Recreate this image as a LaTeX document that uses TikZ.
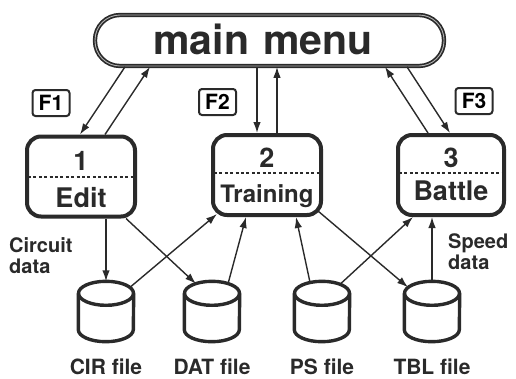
\documentclass[tikz,border=0pt]{standalone}
\usepackage{fontspec}
\setmainfont{TeX Gyre Heros}
\usetikzlibrary{arrows.meta,calc}
\definecolor{ink}{HTML}{2A2A2A}
\begin{document}
\begin{tikzpicture}[x=1pt,y=-1pt,
  menubox/.style={draw=ink, line width=1.7pt, double=gray!60, double distance=0.9pt,
    rounded corners=25pt, minimum width=349pt, minimum height=51pt, inner sep=0pt},
  modebox/.style={draw=ink, line width=4pt, rounded corners=14pt,
    minimum width=108pt, minimum height=80pt, inner sep=0pt},
  keybox/.style={draw=ink, line width=2pt, rounded corners=3pt, minimum width=37pt,
    minimum height=26pt, inner sep=0pt, font=\bfseries\fontsize{21}{21}\selectfont},
  boxtext/.style={text=ink, inner sep=0pt, anchor=base, font=\bfseries\fontsize{27}{27}\selectfont},
  sidelab/.style={text=ink, inner sep=0pt, align=left, anchor=north west,
    font=\bfseries\fontsize{20}{20.5}\selectfont},
  filelab/.style={text=ink, inner sep=0pt, anchor=base, font=\bfseries\fontsize{21}{21}\selectfont},
  divider/.style={draw=ink, line width=1.3pt, dash pattern=on 3pt off 2.4pt},
  arr/.style={draw=ink, line width=1.4pt, -{Latex[length=11pt,width=7.5pt]}},
  cylline/.style={draw=ink, line width=3.4pt},
  holder/.style={minimum width=55pt, minimum height=60pt, inner sep=0pt}]

\useasboundingbox (0,0) rectangle (516,378);

% top menu
\node[menubox] (main) at (269.5,40.5) {};
\node[text=ink, inner sep=0pt, font=\bfseries\fontsize{41}{41}\selectfont]
  (mainlab) at (263,39) {main\hspace{14pt}menu};

% function keys
\node[keybox] (f1) at (51,103) {F1};
\node[keybox] (f2) at (217.5,102) {F2};
\node[keybox] (f3) at (474,101) {F3};

% the three modes
\node[modebox] (b1) at (81,176.5) {};
\node[modebox] (b2) at (267,175) {};
\node[modebox, minimum width=106pt] (b3) at (451,175) {};

\draw[divider] ($(b1.west)+(3,0.5)$) -- ($(b1.east)+(-3,0.5)$);
\draw[divider] ($(b2.west)+(3,-2)$) -- ($(b2.east)+(-3,-2)$);
\draw[divider] ($(b3.west)+(3,-2)$) -- ($(b3.east)+(-3,-2)$);

\node[boxtext] (n1) at ($(b1.center)+(0,-6.5)$) {1};
\node[boxtext] (t1) at ($(b1.center)+(0,30.5)$) {Edit};
\node[boxtext] (n2) at ($(b2.center)+(0,-8)$) {2};
\node[boxtext, font=\bfseries\fontsize{24}{24}\selectfont] (t2) at ($(b2.center)+(0,27)$) {Training};
\node[boxtext] (n3) at ($(b3.center)+(0,-8)$) {3};
\node[boxtext] (t3) at ($(b3.center)+(0,25)$) {Battle};

% data files
\foreach \n/\x/\lab in {c1/106/CIR file, c2/212/DAT file, c3/322/PS file, c4/432/TBL file} {
  \node[holder] (\n) at (\x,311.5) {};
  \draw[cylline] ($(\n.north)+(0,12)$) ellipse [x radius=27.5pt, y radius=12pt];
  \draw[cylline] ($(\n.north west)+(0,12)$) -- ($(\n.south west)+(0,-12)$)
    arc[start angle=180, end angle=360, x radius=27.5pt, y radius=12pt]
    -- ($(\n.north east)+(0,12)$);
  \node[filelab] (\n-lab) at (\x,374.5) {\lab};
}

% menu <-> modes
\draw[arr] ($(main.south)+(-144.5,0)$) -- ($(b1.north)+(-1,0)$);
\draw[arr] ($(b1.north)+(24,0)$) -- ($(main.south)+(-119.5,0)$);
\draw[arr] ($(main.south)+(-12.5,0)$) -- ($(b2.north)+(-10,0)$);
\draw[arr] ($(b2.north)+(10,0)$) -- ($(main.south)+(7.5,0)$);
\draw[arr] ($(main.south)+(137.5,0)$) -- ($(b3.north)+(-1,0)$);
\draw[arr] ($(b3.north)+(-23,0)$) -- ($(main.south)+(115.5,0)$);

% modes <-> files
\draw[arr] (b1.south -| c1.north) -- (c1.north);
\draw[arr] ($(b1.south)+(45,0)$) -- ($(c2.north)+(-16,2.5)$);
\draw[arr] ($(c1.north)+(24,6)$) -- ($(b2.south)+(-50,-3)$);
\draw[arr] ($(c2.north)+(16,2.5)$) -- ($(b2.south)+(-21,0)$);
\draw[arr] ($(c3.north)+(-12,1)$) -- ($(b2.south)+(29,0)$);
\draw[arr] ($(b2.south)+(51,-6)$) -- ($(c4.north)+(-24,6)$);
\draw[arr] ($(c3.north)+(18,3)$) -- ($(b3.south)+(-38,0)$);
\draw[arr] (c4.north) -- (b3.south -| c4.north);

% side notes
\node[sidelab] (circ) at (9,237.5) {Circuit\\data};
\node[sidelab] (speed) at (448,233.5) {Speed\\data};
\end{tikzpicture}
\end{document}
